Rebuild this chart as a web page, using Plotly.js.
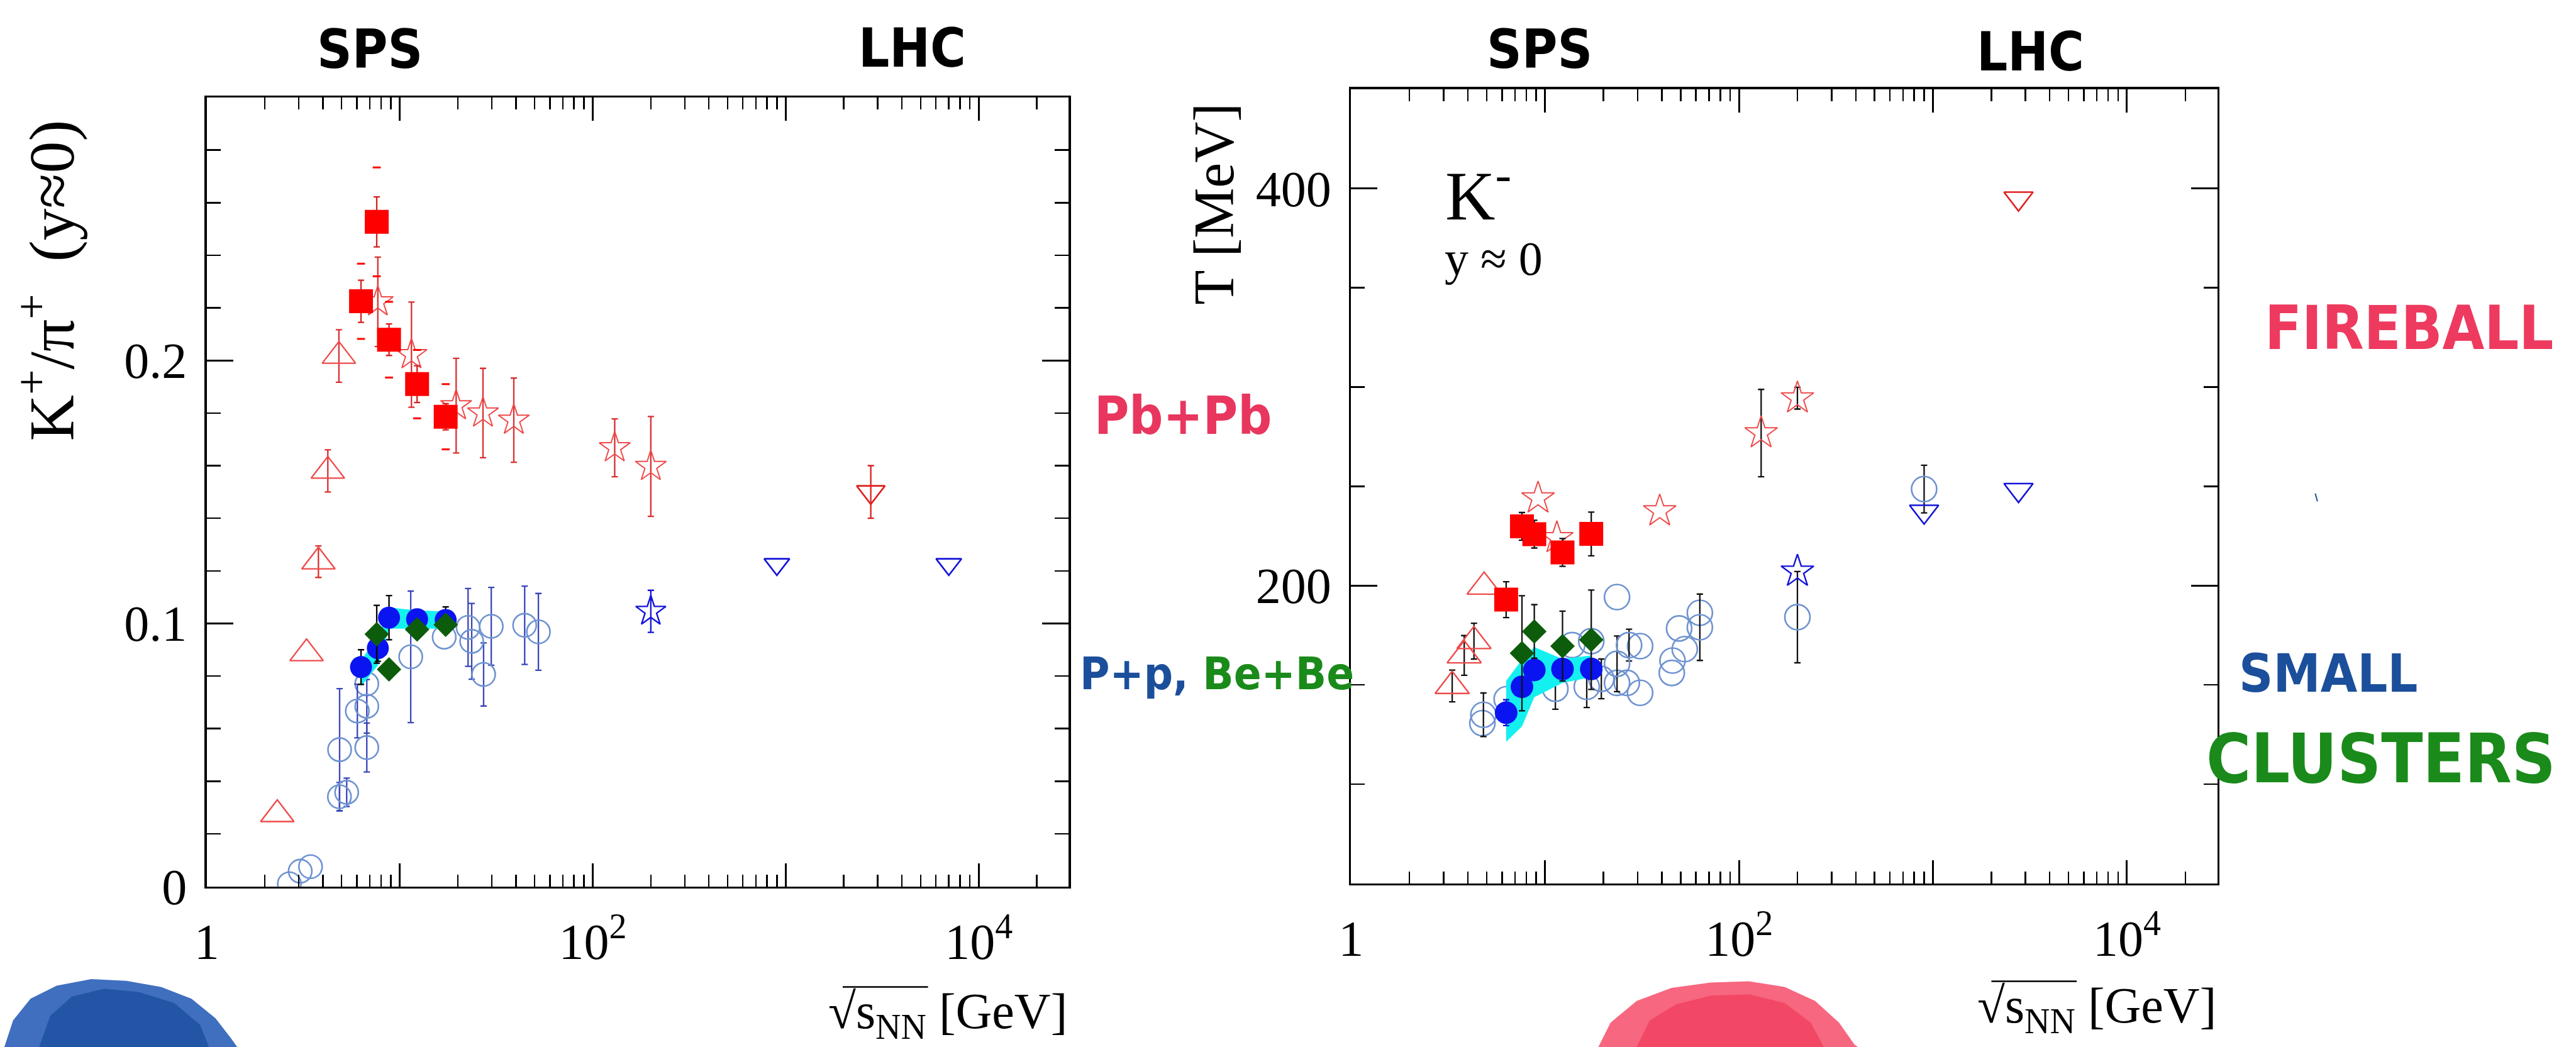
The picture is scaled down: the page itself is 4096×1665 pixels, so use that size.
<!DOCTYPE html>
<html><head><meta charset="utf-8">
<script src="https://cdn.plot.ly/plotly-3.0.1.min.js"></script>
<style>html,body{margin:0;padding:0;background:#fff;overflow:hidden}#chart{width:4096px;height:1665px}</style>
</head><body><div id="chart"></div>
<script>
// ---------------- DATA: left panel  K+/pi+ (y~0) vs sqrt(sNN) ----------------
const kpiPbSqX   = [6.3, 7.6, 8.8, 12.3, 17.3];
const kpiPbSqY   = [0.2225, 0.2527, 0.2079, 0.191, 0.1786];
const kpiPbSqErr = [0.008, 0.0095, 0.006, 0.007, 0.005];
const kpiPbSqSys = [0.0143, 0.0207, 0.0144, 0.013, 0.0124];

const kpiStarX   = [7.7, 11.5, 19.6, 27, 39, 130, 200];
const kpiStarY   = [0.2223, 0.2022, 0.1828, 0.180, 0.1773, 0.1668, 0.1597];
const kpiStarErr = [0.017, 0.02, 0.018, 0.017, 0.016, 0.011, 0.019];

const kpiAgsX    = [2.32, 3.29, 3.79, 4.24, 4.84];
const kpiAgsY    = [0.0274, 0.0886, 0.1235, 0.158, 0.2017];
const kpiAgsErr  = [null, null, 0.006, 0.008, 0.01];

const kpiLhcPbX = [2760], kpiLhcPbY = [0.150], kpiLhcPbErr = [0.01];
const kpiLhcPpX = [900, 7000], kpiLhcPpY = [0.1225, 0.1225];
const kpiRhicPpX = [200], kpiRhicPpY = [0.1046], kpiRhicPpErr = [0.008];

const kpiPpX     = [6.3, 7.7, 8.8, 12.3, 17.3];
const kpiPpY     = [0.0834, 0.0906, 0.1022, 0.1016, 0.1013];
const kpiPpErr   = [0.0066, 0.005, 0.0084, null, 0.005];
const kpiBandHi  = [0.086, 0.095, 0.106, 0.105, 0.1045];
const kpiBandLo  = [0.076, 0.084, 0.098, 0.098, 0.098];

const kpiBeX     = [7.6, 8.8, 12.3, 17.3];
const kpiBeY     = [0.0959, 0.0825, 0.0977, 0.0995];
const kpiBeErr   = [0.011, null, null, null];

const kpiWorldX  = [2.68, 3.05, 3.45, 4.87, 4.88, 5.31, 6.03, 6.75, 6.75, 6.75, 11.4, 17.0, 22.6, 23.6, 27.2, 29.8, 44.4, 52.3];
const kpiWorldY  = [0.001, 0.0058, 0.0075, 0.0341, 0.052, 0.0358, 0.0667, 0.0685, 0.077, 0.0528, 0.0873, 0.0948, 0.0985, 0.0932, 0.0806, 0.0989, 0.0993, 0.0968];
const kpiWorldErr= [null, null, null, 0.0054, 0.0232, 0.0054, 0.0102, 0.0102, null, 0.0093, 0.025, null, 0.0148, 0.0144, 0.012, 0.0148, 0.0149, 0.0146];

// ---------------- DATA: right panel  T [MeV] (K-) ----------------
const tPbSqX   = [6.3, 7.6, 8.8, 12.3, 17.3];
const tPbSqY   = [192.9, 229.8, 225.9, 216.7, 226];
const tPbSqErr = [9, 7, 7, 7, 11];

const tStarX   = [9.2, 11.5, 39, 130, 200];
const tStarY   = [244, 224, 237.5, 276.8, 294.4];
const tStarErr = [null, null, null, 22, 5.5];

const tAgsX    = [3.32, 3.83, 4.3, 4.85];
const tAgsY    = [149.4, 164.8, 172, 199.4];
const tAgsErr  = [8, 10, 9, null];

const tLhcPbX = [2760], tLhcPbY = [395];
const tLhcPpX = [900, 2760], tLhcPpY = [237.3, 248.2];
const tRhicPpX = [200], tRhicPpY = [207.1];

const tPpX     = [6.3, 7.6, 8.8, 12.3, 17.3];
const tPpY     = [136, 149, 157.5, 158, 158];
const tPpErr   = [6.5, null, null, null, 5];
const tBandHi  = [152, 162.7, 169, 163, 164.8];
const tBandLo  = [121.3, 129, 143.8, 151, 153.8];

const tBeX     = [7.6, 8.8, 12.3, 17.3];
const tBeY     = [165.9, 176.9, 169.5, 172.7];
const tBeErr   = [29, 13.5, 17.6, 25];

const tWorldX  = [4.75, 4.81, 6.34, 11.3, 13.8, 16.4, 17.3, 19.5, 23.5, 23.5, 23.5, 26.4, 27.1, 30.9, 30.9, 45, 45.4, 49.1, 52.5, 62.8, 62.8, 200, 900];
const tWorldY  = [130.7, 134.9, 142.8, 148, 170, 149, 172, 153, 194.2, 160.6, 151, 151, 170, 169.5, 146, 156, 162.2, 178.4, 168, 186.3, 179, 184.1, 248.6];
const tWorldErr= [null, 11, null, 10.3, null, 10.4, null, 10, null, 14, null, null, 8, null, null, null, null, null, null, null, 16.7, 23, 12];

// ---------------- AXIS TICKS ----------------
const xMajorVals = [1, 10, 100, 1000, 10000];
const xMajorText = ['1', '', '10<sup>2</sup>', '', '10<sup>4</sup>'];
const xMinorVals = [2,3,4,5,6,7,8,9,20,30,40,50,60,70,80,90,200,300,400,500,600,700,800,900,2000,3000,4000,5000,6000,7000,8000,9000,20000];
const yLMajorVals = [0, 0.1, 0.2];
const yLMajorText = ['0', '0.1', '0.2'];
const yLMinorVals = [0.02,0.04,0.06,0.08,0.12,0.14,0.16,0.18,0.22,0.24,0.26,0.28];
const yRMajorVals = [200, 400];
const yRMajorText = ['200', '400'];
const yRMinorVals = [100, 150, 250, 300, 350];

// ---------------- GEOMETRY HELPERS (reference pixels -> paper) ----------------
const FW = 5918, FH = 2406, S = 4096 / FW;
const px = v => v / FW;
const py = v => 1 - v / FH;
const f = v => Math.round(v * S);   // reference px -> output px

const RED = '#ff0000', ORED = '#ee4b4b', BLUE = '#1414d8', FBLUE = '#0a14f0',
      WBLUE = '#6f93d0', WERR = '#3a46b8', GREEN = '#0c5c0c', CYAN = '#14f0f0';

// Build marker traces; points with an error value get error bars, others none.
function pts(xa, ya, x, y, sym, size, color, lw, err, ecolor) {
  const base = (xs, ys) => ({type: 'scatter', mode: 'markers', xaxis: xa, yaxis: ya, x: xs, y: ys,
    showlegend: false, hoverinfo: 'skip',
    marker: {symbol: sym, size: size, color: color, line: {color: color, width: lw}}});
  if (!err) return [base(x, y)];
  const wi = [], wo = [];
  err.forEach((e, i) => (e == null ? wo : wi).push(i));
  const out = [];
  if (wo.length) out.push(base(wo.map(i => x[i]), wo.map(i => y[i])));
  if (wi.length) {
    const t = base(wi.map(i => x[i]), wi.map(i => y[i]));
    t.error_y = {type: 'data', array: wi.map(i => err[i]), visible: true, color: ecolor, thickness: 2.3, width: 5};
    out.push(t);
  }
  return out;
}
function band(xa, ya, x, hi, lo) {
  return [
    {type: 'scatter', mode: 'lines', xaxis: xa, yaxis: ya, x: x, y: hi, line: {width: 0, color: CYAN}, showlegend: false, hoverinfo: 'skip'},
    {type: 'scatter', mode: 'lines', xaxis: xa, yaxis: ya, x: x, y: lo, line: {width: 0, color: CYAN}, fill: 'tonexty', fillcolor: CYAN, showlegend: false, hoverinfo: 'skip'}
  ];
}

const traces = [
  // ---- left panel ----
  ...pts('x', 'y', kpiWorldX, kpiWorldY, 'circle-open', f(54), WBLUE, 2.6, kpiWorldErr, WERR),
  ...band('x', 'y', kpiPpX, kpiBandHi, kpiBandLo),
  ...pts('x', 'y', kpiAgsX, kpiAgsY, 'triangle-up-open', f(66), ORED, 2.4, kpiAgsErr, '#d83030'),
  ...pts('x', 'y', kpiStarX, kpiStarY, 'star-open', f(54), ORED, 2, kpiStarErr, '#d83030'),
  ...pts('x', 'y', kpiPbSqX.concat(kpiPbSqX),
      kpiPbSqY.map((v, i) => v + kpiPbSqSys[i]).concat(kpiPbSqY.map((v, i) => v - kpiPbSqSys[i])),
      'line-ew', 9, RED, 3, null),
  ...pts('x', 'y', kpiPbSqX, kpiPbSqY, 'square', f(55), RED, 0, kpiPbSqErr, '#d82020'),
  ...pts('x', 'y', kpiPpX, kpiPpY, 'circle', f(51), FBLUE, 0, kpiPpErr, '#000'),
  ...pts('x', 'y', kpiBeX, kpiBeY, 'diamond', f(44), GREEN, 0, kpiBeErr, '#000'),
  ...pts('x', 'y', kpiLhcPbX, kpiLhcPbY, 'triangle-down-open', f(56), '#e02020', 2.6, kpiLhcPbErr, '#d82020'),
  ...pts('x', 'y', kpiLhcPpX, kpiLhcPpY, 'triangle-down-open', f(50), BLUE, 2.6, null),
  ...pts('x', 'y', kpiRhicPpX, kpiRhicPpY, 'star-open', f(52), BLUE, 2.4, kpiRhicPpErr, BLUE),
  // ---- right panel ----
  ...pts('x2', 'y2', tWorldX, tWorldY, 'circle-open', f(58), WBLUE, 2.6, tWorldErr, '#111'),
  ...band('x2', 'y2', tPpX, tBandHi, tBandLo),
  ...pts('x2', 'y2', tAgsX, tAgsY, 'triangle-up-open', f(68), ORED, 2.4, tAgsErr, '#111'),
  ...pts('x2', 'y2', tStarX, tStarY, 'star-open', f(56), ORED, 2, tStarErr, '#111'),
  ...pts('x2', 'y2', tPbSqX, tPbSqY, 'square', f(55), RED, 0, tPbSqErr, '#111'),
  ...pts('x2', 'y2', tPpX, tPpY, 'circle', f(52), FBLUE, 0, tPpErr, BLUE),
  ...pts('x2', 'y2', tBeX, tBeY, 'diamond', f(44), GREEN, 0, tBeErr, '#111'),
  ...pts('x2', 'y2', tLhcPbX, tLhcPbY, 'triangle-down-open', f(58), '#e02020', 2.6, null),
  ...pts('x2', 'y2', tLhcPpX, tLhcPpY, 'triangle-down-open', f(58), BLUE, 2.6, null),
  ...pts('x2', 'y2', tRhicPpX, tRhicPpY, 'star-open', f(56), BLUE, 2.4, null)
];

const tickFont = {family: 'Liberation Serif, Times New Roman, serif', size: 80, color: '#000'};
function xAxis(domain, anchor) {
  return {type: 'log', range: [0, 4.466], domain: domain, anchor: anchor,
    showline: true, linecolor: '#000', linewidth: 3.5, mirror: 'allticks',
    ticks: 'inside', ticklen: f(54), tickwidth: 3, tickcolor: '#000',
    tickmode: 'array', tickvals: xMajorVals, ticktext: xMajorText, tickfont: tickFont,
    ticklabelstandoff: 16,
    minor: {ticks: 'inside', tickmode: 'array', tickvals: xMinorVals, ticklen: f(27), tickwidth: 2.5, tickcolor: '#000', showgrid: false},
    showgrid: false, zeroline: false, fixedrange: true};
}
function yAxis(domain, anchor, range, mv, mt, minv) {
  return {range: range, domain: domain, anchor: anchor,
    showline: true, linecolor: '#000', linewidth: 3.5, mirror: 'allticks',
    ticks: 'inside', ticklen: f(60), tickwidth: 3, tickcolor: '#000',
    tickmode: 'array', tickvals: mv, ticktext: mt, tickfont: tickFont,
    ticklabelstandoff: 12,
    minor: {ticks: 'inside', tickmode: 'array', tickvals: minv, ticklen: f(32), tickwidth: 2.5, tickcolor: '#000', showgrid: false},
    showgrid: false, zeroline: false, fixedrange: true};
}

const hand = {family: 'DejaVu Sans Condensed, DejaVu Sans, sans-serif', weight: 700};
function ann(x, y, text, font, extra) {
  return Object.assign({xref: 'paper', yref: 'paper', x: px(x), y: py(y), text: text, showarrow: false,
    xanchor: 'center', yanchor: 'middle', font: font}, extra || {});
}
const serif = (size) => ({family: 'Liberation Serif, Times New Roman, serif', size: size, color: '#000'});

const annotations = [
  ann(850, 112, 'SPS', Object.assign({size: 86, color: '#000'}, hand)),
  ann(2095, 110, 'LHC', Object.assign({size: 86, color: '#000'}, hand)),
  ann(3537, 113, 'SPS', Object.assign({size: 86, color: '#000'}, hand)),
  ann(4665, 118, 'LHC', Object.assign({size: 86, color: '#000'}, hand)),
  ann(2717, 955, 'Pb+Pb', Object.assign({size: 84, color: '#e8365e'}, hand)),
  ann(2796, 1547, '<span style="color:#1b4f9b">P+p,</span> <span style="color:#1a8a1a">Be+Be</span>', Object.assign({size: 72, color: '#1b4f9b'}, hand)),
  ann(5535, 755, 'FIREBALL', Object.assign({size: 96, color: '#ee3a5f'}, hand)),
  ann(5349, 1547, 'SMALL', Object.assign({size: 84, color: '#1b4f9b'}, hand)),
  ann(5470, 1744, 'CLUSTERS', Object.assign({size: 108, color: '#1a8a1a'}, hand)),
  // axis titles
  ann(107, 645, 'K<sup>+</sup>/π<sup>+</sup>  (y≈0)', serif(102), {textangle: -90}),
  ann(2790, 469, 'T [MeV]', serif(90), {textangle: -90}),
  ann(2455, 2333, '√s<sub>NN</sub> [GeV]', serif(80), {xanchor: 'right'}),
  ann(5094, 2320, '√s<sub>NN</sub> [GeV]', serif(80), {xanchor: 'right'}),
  // in-panel labels
  ann(3318, 438, 'K<sup>-</sup>', serif(110), {xanchor: 'left'}),
  ann(3316, 594, 'y ≈ 0', serif(76), {xanchor: 'left'})
];

function pathFrom(points) {
  return 'M' + points.map(p => px(p[0]).toFixed(5) + ',' + py(p[1]).toFixed(5)).join(' L') + ' Z';
}
const blueBlob = [[10,2406],[30,2345],[70,2295],[130,2265],[210,2250],[290,2254],[370,2268],[440,2295],[495,2340],[530,2385],[545,2406]];
const blueBlobInner = [[90,2406],[115,2335],[165,2290],[240,2272],[320,2280],[400,2305],[460,2355],[480,2406]];
const redBlob = [[3672,2406],[3700,2350],[3760,2300],[3840,2270],[3930,2258],[4018,2255],[4100,2268],[4170,2300],[4225,2350],[4260,2400],[4268,2406]];
const redBlobInner = [[3760,2406],[3790,2345],[3850,2308],[3930,2288],[4020,2285],[4100,2305],[4160,2350],[4190,2406]];

const shapes = [
  {type: 'path', xref: 'paper', yref: 'paper', path: pathFrom(blueBlob), fillcolor: '#3f6fbe', line: {width: 0}},
  {type: 'path', xref: 'paper', yref: 'paper', path: pathFrom(blueBlobInner), fillcolor: '#1f51a3', line: {width: 0}, opacity: 0.85},
  {type: 'path', xref: 'paper', yref: 'paper', path: pathFrom(redBlob), fillcolor: '#f7677f', line: {width: 0}},
  {type: 'path', xref: 'paper', yref: 'paper', path: pathFrom(redBlobInner), fillcolor: '#f0415f', line: {width: 0}, opacity: 0.8},
  {type: 'line', xref: 'paper', yref: 'paper', x0: px(5319), y0: py(1134), x1: px(5324), y1: py(1152), line: {color: '#1b4f9b', width: 2}},
  // overline of the square-root sign in the x-axis titles
  {type: 'line', xref: 'paper', yref: 'paper', x0: px(1936), y0: py(2268), x1: px(2132), y1: py(2268), line: {color: '#000', width: 2.5}},
  {type: 'line', xref: 'paper', yref: 'paper', x0: px(4575), y0: py(2255), x1: px(4771), y1: py(2255), line: {color: '#000', width: 2.5}}
];

const layout = {
  width: 4096, height: 1665,
  margin: {l: 0, r: 0, t: 0, b: 0, pad: 0},
  paper_bgcolor: '#fff', plot_bgcolor: '#fff',
  showlegend: false,
  xaxis: xAxis([px(475), px(2455)], 'y'),
  yaxis: yAxis([py(2037), py(224)], 'x', [0, 0.3], yLMajorVals, yLMajorText, yLMinorVals),
  xaxis2: xAxis([px(3104), px(5094)], 'y2'),
  yaxis2: yAxis([py(2030), py(205)], 'x2', [50, 450], yRMajorVals, yRMajorText, yRMinorVals),
  annotations: annotations,
  shapes: shapes
};

Plotly.newPlot('chart', traces, layout, {staticPlot: true, displayModeBar: false});
</script></body></html>
